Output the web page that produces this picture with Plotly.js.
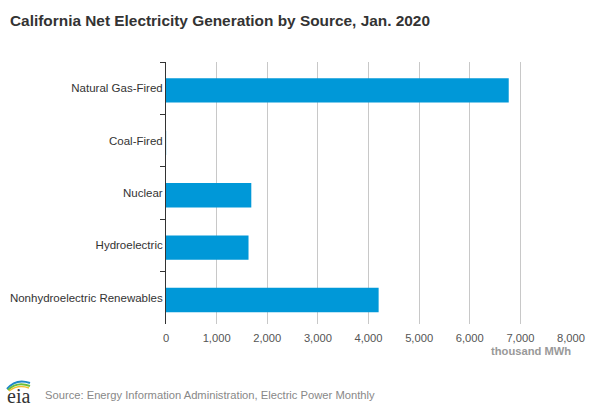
<!DOCTYPE html>
<html>
<head>
<meta charset="utf-8">
<script src="https://cdn.plot.ly/plotly-3.0.1.min.js"></script>
<style>
html,body{margin:0;padding:0;background:#fff;}
#chart{width:612px;height:408px;}
</style>
</head>
<body>
<div id="chart"></div>
<script>
const categories = ["Natural Gas-Fired", "Coal-Fired", "Nuclear", "Hydroelectric", "Nonhydroelectric Renewables"];
const generation = [6770, 3, 1685, 1630, 4200];
const xTickValues = [0, 1000, 2000, 3000, 4000, 5000, 6000, 7000, 8000];
const xTickLabels = ["0", "1,000", "2,000", "3,000", "4,000", "5,000", "6,000", "7,000", "8,000"];

const W = 612, H = 408, ML = 166, MR = 41, MT = 62, MB = 84;
const PW = W - ML - MR, PH = H - MT - MB;
const px = x => (x - ML) / PW;
const py = y => (H - MB - y) / PH;

function arc(x0, y0, cx, cy, x1, y1) {
  return `M ${px(x0)} ${py(y0)} Q ${px(cx)} ${py(cy)} ${px(x1)} ${py(y1)}`;
}

const trace = {
  type: "bar",
  orientation: "h",
  y: categories,
  x: generation,
  width: 0.465,
  offset: -0.19,
  marker: {color: "#0098d8"},
  hoverinfo: "x+y"
};

const layout = {
  width: W, height: H,
  margin: {l: ML, r: MR, t: MT, b: MB, pad: 0},
  paper_bgcolor: "#fff",
  plot_bgcolor: "#fff",
  font: {family: "Liberation Sans, Arial, sans-serif", size: 11, color: "#333"},
  showlegend: false,
  title: {
    text: "<b>California Net Electricity Generation by Source, Jan. 2020</b>",
    x: 10 / W, xanchor: "left", xref: "container",
    y: 1 - 21 / H, yanchor: "middle", yref: "container",
    font: {family: "Liberation Sans, Arial, sans-serif", size: 15.4, color: "#333"}
  },
  xaxis: {
    range: [0, 8000],
    tickvals: xTickValues,
    ticktext: xTickLabels,
    showgrid: true,
    gridcolor: "#c8c8c8",
    gridwidth: 1,
    zeroline: false,
    showline: false,
    ticks: "outside",
    ticklen: 4,
    tickcolor: "rgba(0,0,0,0)",
    tickfont: {size: 11.2, color: "#555"},
    fixedrange: true
  },
  yaxis: {
    type: "category",
    autorange: "reversed",
    showline: true,
    linecolor: "#333",
    linewidth: 1,
    ticks: "outside",
    tickson: "boundaries",
    ticklen: 5,
    tickcolor: "#333",
    tickwidth: 1,
    showgrid: false,
    zeroline: false,
    tickfont: {size: 11.5, color: "#333"},
    fixedrange: true
  },
  annotations: [
    {
      text: "<b>thousand MWh</b>",
      xref: "paper", yref: "paper",
      x: px(573), xanchor: "right",
      y: py(351), yanchor: "middle",
      showarrow: false,
      font: {size: 11.2, color: "#999"}
    },
    {
      text: "Source: Energy Information Administration, Electric Power Monthly",
      xref: "paper", yref: "paper",
      x: px(43), xanchor: "left",
      y: py(395), yanchor: "middle",
      showarrow: false,
      font: {size: 11.2, color: "#888"}
    },
    {
      text: "eia",
      xref: "paper", yref: "paper",
      x: px(5), xanchor: "left",
      y: py(396), yanchor: "middle",
      showarrow: false,
      font: {family: "Liberation Serif, DejaVu Serif, serif", size: 20, color: "#333"}
    }
  ],
  shapes: [
    {type: "path", xref: "paper", yref: "paper", path: arc(7, 389, 16, 378, 30, 383), line: {color: "#1e88c8", width: 2}},
    {type: "path", xref: "paper", yref: "paper", path: arc(8, 390, 17, 381, 30, 386), line: {color: "#6cbf3c", width: 2}},
    {type: "path", xref: "paper", yref: "paper", path: arc(9, 391, 18, 384, 29, 388), line: {color: "#f2c230", width: 1.5}}
  ]
};

Plotly.newPlot("chart", [trace], layout, {displayModeBar: false, staticPlot: true});
</script>
</body>
</html>
